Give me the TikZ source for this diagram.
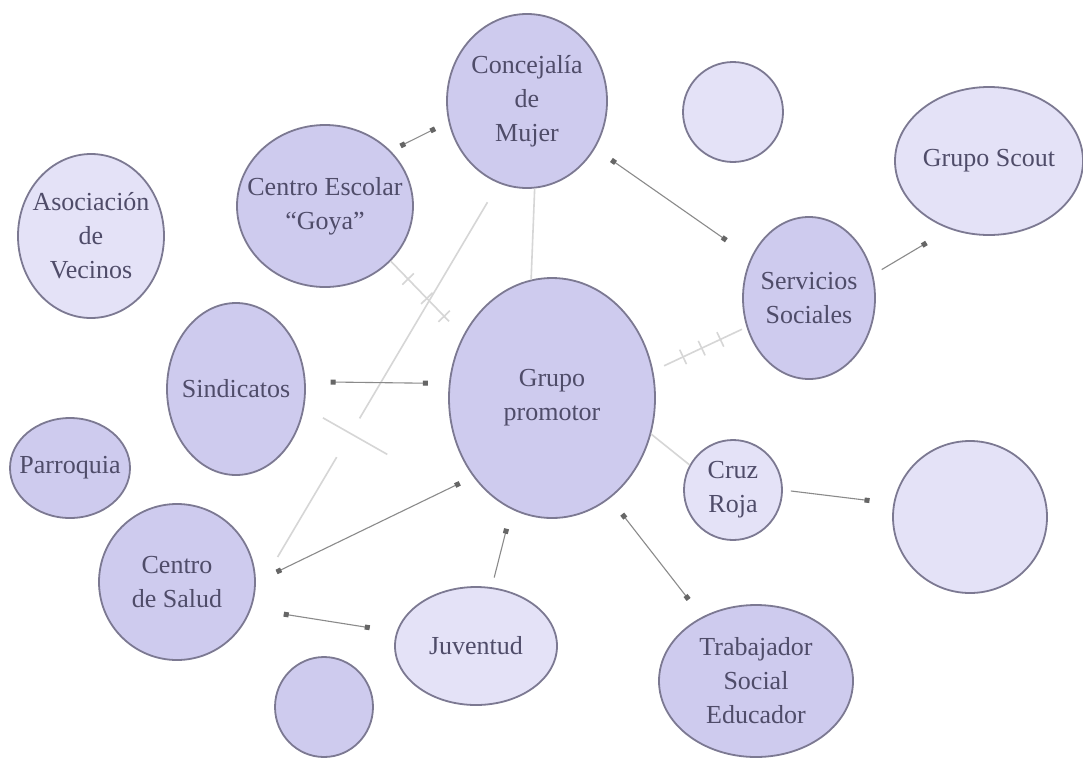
\documentclass[tikz,border=0pt]{standalone}
\usepackage{fontspec}
\setmainfont{Liberation Serif}
\usetikzlibrary{shapes.geometric,arrows.meta,calc,decorations.markings}
\definecolor{bubdark}{HTML}{CECBEE}
\definecolor{bublight}{HTML}{E4E2F7}
\definecolor{bubline}{HTML}{7C7992}
\definecolor{bubtext}{HTML}{4F4C69}
\definecolor{linkcol}{HTML}{8A8A8A}
\definecolor{tipcol}{HTML}{666666}
\definecolor{faint}{HTML}{D6D6D6}
\newcommand{\hatchtick}{\draw[faint, line width=1.6pt, shorten <=0pt, shorten >=0pt] (0pt,-8pt) -- (0pt,8pt);}
\begin{document}
\begin{tikzpicture}[x=1pt,y=-1pt,
  bub/.style={ellipse, draw=bubline, line width=1.8pt, inner sep=0pt, fill=bubdark},
  lightbub/.style={bub, fill=bublight},
  every label/.style={font=\fontsize{26}{34}\selectfont, text=bubtext, align=center, inner sep=0pt},
  link/.style={draw=linkcol, line width=1.1pt,
    {Square[length=5pt,width=5pt,color=tipcol]}-{Square[length=5pt,width=5pt,color=tipcol]}},
  onelink/.style={draw=linkcol, line width=1.1pt, -{Square[length=5pt,width=5pt,color=tipcol]}},
  faintlink/.style={draw=faint, line width=1.6pt},
  hatch/.style n args={3}{postaction={decorate}, decoration={markings,
      mark=at position #1 with {\hatchtick},
      mark=at position #2 with {\hatchtick},
      mark=at position #3 with {\hatchtick}}}
]
\useasboundingbox (0,0) rectangle (1083,758);
\fill[white] (0,0) rectangle (1083,758);

% bubbles
\node[bub, minimum width=160pt, minimum height=174pt, label=center:{Concejalía\\de\\Mujer}] (conc) at (527,101) {};
\node[bub, minimum width=176pt, minimum height=162pt, label=center:{Centro Escolar\\“Goya”}] (goya) at (325,206) {};
\node[lightbub, minimum width=146pt, minimum height=164pt, label=center:{Asociación\\de\\Vecinos}] (asoc) at (91,236) {};
\node[bub, minimum width=138pt, minimum height=172pt, label=center:{Sindicatos}] (sind) at (236,389) {};
\node[bub, minimum width=120pt, minimum height=100pt, label=center:{Parroquia}] (parr) at (70,468) {};
\node[bub, minimum width=156pt, minimum height=156pt, label=center:{Centro\\de Salud}] (salud) at (177,582) {};
\node[bub, minimum width=98pt, minimum height=100pt] (smallb) at (324,707) {};
\node[lightbub, minimum width=162pt, minimum height=118pt, label=center:{Juventud}] (juv) at (476,646) {};
\node[bub, minimum width=206pt, minimum height=240pt, label=center:{Grupo\\promotor}] (prom) at (552,398) {};
\node[lightbub, minimum width=98pt, minimum height=100pt, label=center:{Cruz\\Roja}] (cruz) at (733,490) {};
\node[bub, minimum width=194pt, minimum height=152pt, label=center:{Trabajador\\Social\\Educador}] (trab) at (756,681) {};
\node[bub, minimum width=132pt, minimum height=162pt, label=center:{Servicios\\Sociales}] (serv) at (809,298) {};
\node[lightbub, minimum width=188pt, minimum height=148pt, label=center:{Grupo Scout}] (scout) at (989,161) {};
\node[lightbub, minimum width=100pt, minimum height=100pt] (topc) at (733,112) {};
\node[lightbub, minimum width=154pt, minimum height=152pt] (rightc) at (970,517) {};

% faint relations
\draw[faintlink] (conc.275) -- (prom.100);
\draw[faintlink] (prom.340) -- (cruz.150);
\draw[faintlink, shorten >=20pt, hatch={0.24}{0.5}{0.74}] (goya.320) -- (prom.145);
\draw[faintlink, shorten <=12pt, shorten >=5pt, hatch={0.32}{0.52}{0.72}] (prom.15) -- (serv.205);
% broken relation Concejalia - Centro de Salud
\draw[faintlink, shorten <=22pt] (conc.251) -- ($(conc.251)!0.57!(salud.350)$);
\draw[faintlink, shorten >=45pt] ($(conc.251)!0.664!(salud.350)$) -- (salud.350);
\coordinate (brk) at ($(conc.251)!0.613!(salud.350)+(6,0)$);
\draw[faintlink] ($(brk)!37pt!90:(conc.251)$) -- ($(brk)!37pt!-90:(conc.251)$);

% links
\draw[link, shorten <=11pt, shorten >=15pt] (goya.40) -- (conc.195);
\draw[link, shorten <=20pt, shorten >=30pt] (conc) -- (serv);
\draw[onelink, shorten <=10pt, shorten >=27pt] (serv.20) -- (scout.240);
\draw[link, shorten <=25pt, shorten >=21pt] (sind.6) -- (prom.172);
\draw[link, shorten <=23pt, shorten >=15pt] (salud.0) -- (prom.225);
\draw[link, shorten <=33pt, shorten >=27pt] (salud.340) -- (juv.170);
\draw[onelink, shorten <=10pt, shorten >=20pt] (juv.75) -- (prom.250);
\draw[link, shorten <=20pt, shorten >=22pt] (prom.300) -- (trab.130);
\draw[onelink, shorten <=8pt, shorten >=24pt] (cruz.east) -- (rightc.170);
\end{tikzpicture}
\end{document}
